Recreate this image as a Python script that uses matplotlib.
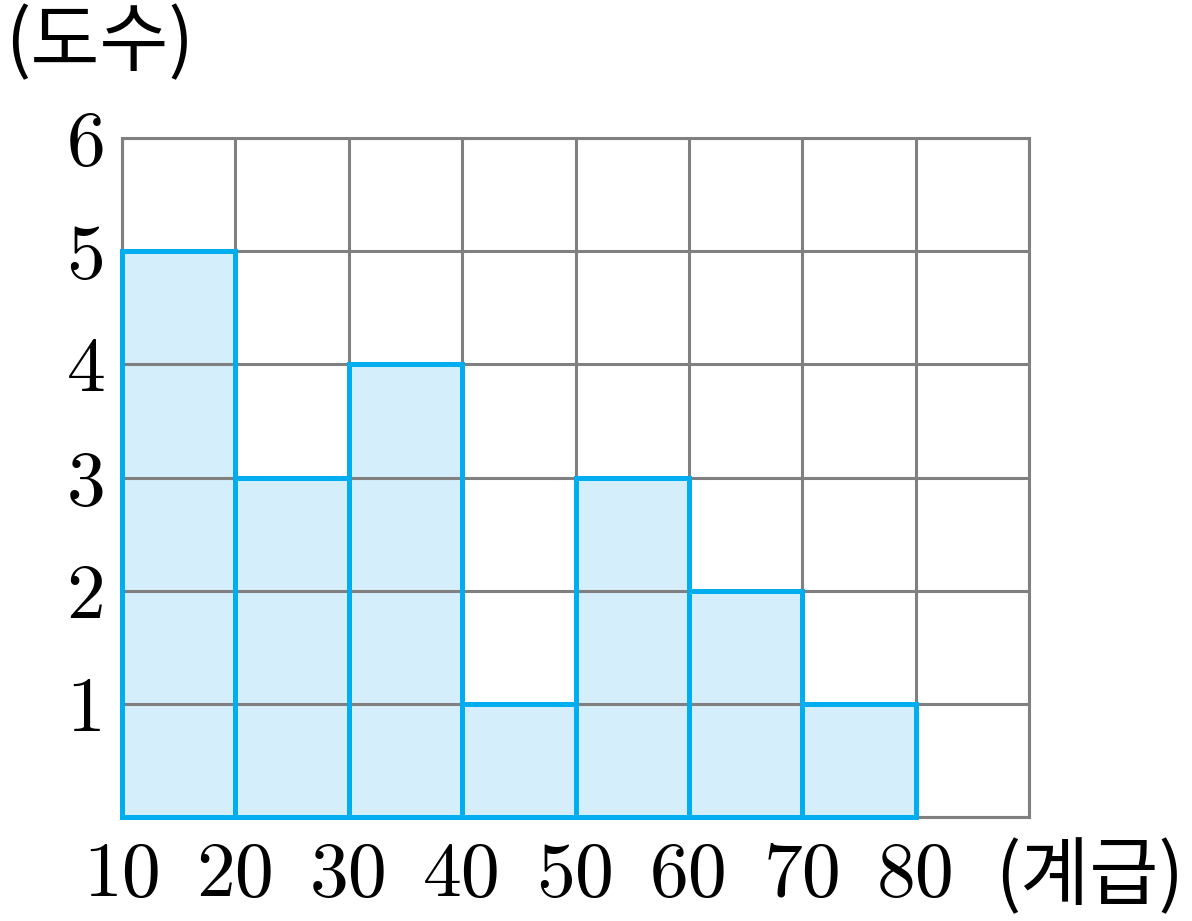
import matplotlib.pyplot as plt
import numpy as np

plt.rcParams['font.family'] = ['Noto Sans CJK KR', 'DejaVu Sans']

# 계급 경계와 도수
edges = [10, 20, 30, 40, 50, 60, 70, 80]
counts = [5, 3, 4, 1, 3, 2, 1]
x_ticks = [10, 20, 30, 40, 50, 60, 70, 80, 90]
x_labels = ['10', '20', '30', '40', '50', '60', '70', '80', '']
y_ticks = [0, 1, 2, 3, 4, 5, 6]
y_labels = ['', '1', '2', '3', '4', '5', '6']

fig = plt.figure(figsize=(11.92, 9.21), dpi=100)
ax = fig.add_axes([122/1192, 104/921, 907/1192, 679/921])

ax.set_xlim(10, 90)
ax.set_ylim(0, 6)
ax.set_xticks(x_ticks)
ax.set_yticks(y_ticks)
ax.set_xticklabels(x_labels, fontsize=56, family='cmr10')
ax.set_yticklabels(y_labels, fontsize=56, family='cmr10')
ax.tick_params(length=0, pad=12)
ax.tick_params(axis='x', pad=18)
ax.grid(True, color='#808080', linewidth=2.2, zorder=1)
for s in ax.spines.values():
    s.set_color('#808080')
    s.set_linewidth(2.2)

# 채우기는 격자 아래, 테두리는 격자 위
ax.bar(edges[:-1], counts, width=10, align='edge', color='#D5EEFB',
       linewidth=0, zorder=0.5)
ax.set_axisbelow(False)
bars = ax.bar(edges[:-1], counts, width=10, align='edge', fill=False,
              edgecolor='#00AEEF', linewidth=3.6, zorder=3)
for b in bars:
    b.set_clip_on(False)
for gl in ax.get_xgridlines() + ax.get_ygridlines():
    gl.set_zorder(1)

fig.text(5/1192, 1 - 44/921, '(도수)', fontsize=54, va='center', ha='left')
fig.text(995/1192, 1 - 878/921, '(계급)', fontsize=54, va='center', ha='left')

fig.savefig('out.png', dpi=100)
